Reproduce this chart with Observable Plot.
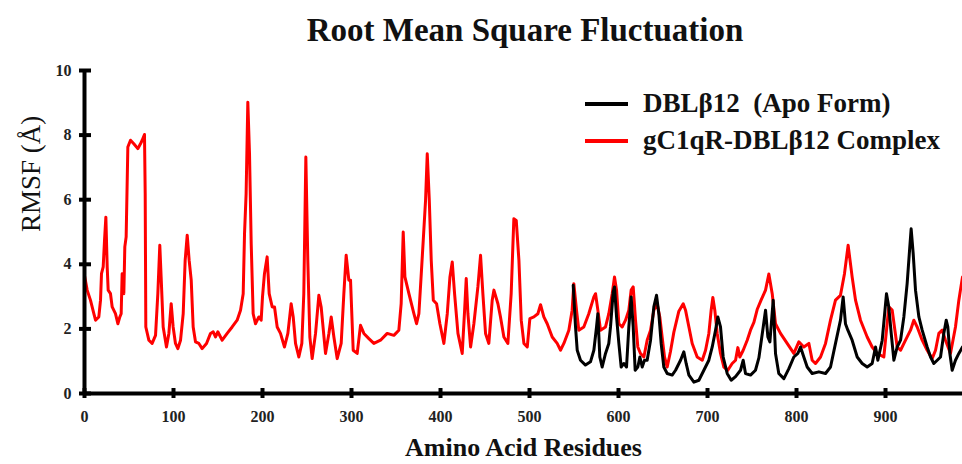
<!DOCTYPE html>
<html><head><meta charset="utf-8">
<script src="https://cdn.jsdelivr.net/npm/d3@7"></script>
<script src="https://cdn.jsdelivr.net/npm/@observablehq/plot@0.6"></script>
<style>
body{margin:0;background:#fff;}
#wrap{position:relative;width:962px;height:464px;overflow:hidden;font-family:"Liberation Serif","Times New Roman",serif;}
#title{box-sizing:border-box;height:55px;padding-top:5px;line-height:51px;font-size:33px;font-weight:bold;text-align:center;padding-left:88px;color:#111;white-space:nowrap;}
#legend{position:absolute;left:585px;top:85px;font-size:27px;font-weight:bold;color:#111;}
.row{position:relative;height:37px;white-space:pre;}
.sw{position:absolute;left:0;top:17px;width:43px;height:0;border-top:4px solid;}
.lab{position:absolute;left:58px;top:0;line-height:37px;}
</style></head><body>
<div id="wrap">
<div id="title">Root Mean Square Fluctuation</div>
<div id="chart"></div>
<div id="legend"></div>
</div>
<script>
// Series labels and colours
const seriesNames = ["DBLβ12  (Apo Form)", "gC1qR-DBLβ12 Complex"];
const seriesColors = ["#000000", "#ff0000"];

// Ticks
const xTicks = [0, 100, 200, 300, 400, 500, 600, 700, 800, 900];
const yTicks = [0, 2, 4, 6, 8, 10];

// gC1qR-DBLβ12 Complex (red)
const complexResidue = [0,3,6.7,10.5,12.4,16.1,18,19.1,21,22.5,24,25.5,26.6,29.2,31.1,34.8,37.5,39.7,41.2,42.3,44.2,45.3,46.8,48.7,51.7,55.4,59.9,62.9,64.8,67.4,68.2,68.9,72.3,76,79.8,82.4,84.6,86.1,88.4,92.1,94.8,97.4,99.6,102.2,104.9,107.9,110.9,113.1,115.4,117.6,119.9,122.1,124.7,128.5,132.2,137.1,141.6,144.6,147.2,149.8,154.7,160.3,165.9,171.5,175.3,178.3,179.8,181.6,183.5,185.4,187.3,189.5,192.1,195.9,198.5,200,202.2,205.2,207.5,210.9,213.5,216.5,220.2,224.7,228.5,232.2,234.5,237.1,240.8,244.2,246.4,248.7,250.9,253.2,255.8,259.6,263.3,265.9,270.8,274.6,277.2,280.2,283.9,288.4,291.4,294,297,298.9,301.9,306.4,310.1,313.9,319.5,325.1,332.6,340.1,347.6,353.2,355.8,358.1,360,364.5,370.1,373.1,375.7,378.4,380.6,383.2,385.1,387.4,389.6,391.9,395.6,399.3,403.8,407.6,410.6,413.2,415.8,419.6,424.4,427.1,428.9,430.8,433.8,437.5,442,445,447.6,450.6,454.3,458.1,460,464.5,467.4,471.2,475.7,479.4,482.4,485.1,488.1,490.7,493.7,497.5,500.4,504.9,509.4,512.4,516.1,519.9,525.5,531.1,534.8,538.6,544.2,547.9,549.8,552.8,555.4,561,566.6,572.3,574.2,576.8,579.8,585.4,589.1,592.9,595.5,597.8,600.4,604.1,607.9,611.6,614.2,616.5,619.1,621.7,624.7,628.5,632.2,636,639.7,643.4,646.4,649,651.7,654.7,658.4,662.2,667.8,672.7,675.3,679.1,682.8,688.4,694.1,697.8,701.5,704.1,706,708.2,710.9,714.6,718.4,722.8,727.7,731.5,734.1,736.3,740.1,744.6,748.3,752.1,755.8,760.3,765.2,768.9,772.7,776.4,782,789.5,797,802.6,808.2,813.9,817.6,821.3,827,832.6,838.2,843.8,849.4,853.9,858,862.5,866.3,871.9,879.4,885,890.6,898.1,903.7,907.5,913.1,916.9,922.5,928.1,931.8,935.6,941.2,946.8,952.4,956.2,959.9,963.7,967.4,973,978.6,982.4,986.5];
const complexRmsf = [3.65,3.2,2.89,2.47,2.27,2.37,2.89,3.71,3.92,4.74,5.46,3.92,3.2,3.09,2.68,2.47,2.16,2.37,2.47,3.71,3.09,4.54,4.85,7.63,7.84,7.73,7.58,7.73,7.84,8.02,6.19,2.06,1.65,1.55,1.8,3.09,4.59,3.61,2.06,1.44,1.86,2.78,2.06,1.55,1.39,1.65,2.47,4.12,4.9,4.12,3.51,2.06,1.6,1.55,1.39,1.55,1.86,1.91,1.75,1.91,1.65,1.86,2.06,2.27,2.58,3.09,4.95,6.19,9.02,7.42,4.64,2.47,2.16,2.37,2.27,2.99,3.71,4.23,3.09,2.68,2.68,2.06,1.86,1.44,1.86,2.78,2.37,1.55,1.13,1.55,3.09,7.32,4.12,1.75,1.08,1.86,3.04,2.68,1.24,1.86,2.37,1.75,1.08,1.55,3.09,4.28,3.51,3.51,1.34,1.24,2.11,1.86,1.7,1.55,1.65,1.86,1.8,1.96,2.78,5.0,3.61,3.09,2.47,2.16,2.47,3.71,4.74,5.98,7.42,5.98,4.12,2.89,2.78,2.16,1.55,2.47,3.61,4.07,3.09,1.86,1.24,2.58,3.56,2.47,1.44,2.16,3.3,4.28,3.09,1.86,1.55,2.89,3.2,2.78,2.37,1.75,1.55,3.09,5.41,5.36,4.12,2.27,1.55,1.44,2.32,2.37,2.47,2.75,2.37,2.16,1.75,1.55,1.34,1.55,1.96,2.58,3.4,2.58,1.96,2.06,2.47,2.99,3.09,2.58,1.96,2.06,2.47,3.09,3.61,3.2,2.16,2.06,2.27,2.58,3.2,3.3,2.27,1.44,1.24,1.13,1.65,1.96,2.58,2.78,2.37,1.75,1.13,0.82,1.3,1.9,2.55,2.78,2.58,2.06,1.55,1.13,1.03,1.34,1.86,2.58,2.97,2.58,1.86,1.24,0.82,0.72,0.93,1.03,1.42,1.13,1.34,1.65,1.96,2.2,2.6,2.9,3.2,3.7,3.09,2.16,1.86,1.55,1.24,1.6,1.44,1.55,1.03,0.93,1.13,1.55,2.27,2.89,3.04,3.71,4.59,3.61,2.89,2.27,1.75,1.44,1.24,1.13,2.68,2.58,1.44,1.34,1.65,1.96,2.27,2.06,1.65,1.34,1.08,1.34,1.86,1.96,1.65,1.24,2.06,2.89,3.61];

// DBLβ12 Apo Form (black)
const apoResidue = [549.1,551.7,553.6,557.3,562.9,568.5,572.3,575.3,576.8,579,581.6,585.4,589.1,591,594,595.5,597.8,600.4,603,606,609,611.6,614.2,616.5,618.7,621.7,624,626.6,629.2,632.2,636,639.7,642.7,645.3,647.9,650.9,654.7,660.3,664.1,669.7,673.4,676,679.1,684.7,690.3,695.9,701.5,705.3,709,711.6,714.6,717.6,722.1,726.6,731.5,737.1,740.1,742.7,748.3,753.9,757.7,762.6,765.2,767.8,770.1,773.8,776.4,780.1,785.8,791.4,797,801.5,804.5,808.2,812,817.6,825.1,832.6,838.2,843.8,849.4,852.4,855,857.7,862.5,868.2,873.8,879.4,885,888.8,891.4,896.3,901.1,903.7,906.4,909.4,913.1,916.9,920.6,924.3,927,928.8,931.1,933.7,937.5,941.2,946.8,950.6,954.3,958.1,961.8,965.5,968.2,970,972.3,974.9,978.6,982.4,986.5];
const apoRmsf = [3.35,2.06,1.34,1.03,0.88,0.98,1.34,2.06,2.47,1.13,0.82,1.24,1.55,2.06,3.14,3.3,2.37,1.55,0.82,0.93,0.82,2.06,2.99,2.06,0.72,0.82,1.13,0.82,1.03,1.03,1.65,2.68,3.04,2.47,1.55,0.82,0.62,0.57,0.72,1.03,1.29,0.93,0.57,0.35,0.41,0.72,1.03,1.44,1.96,2.37,2.06,1.13,0.62,0.41,0.52,0.72,1.03,0.62,0.57,0.72,1.1,2.06,2.58,1.75,1.6,2.89,1.24,0.62,0.46,0.77,1.13,1.24,1.44,1.13,0.82,0.62,0.67,0.62,0.82,1.55,2.27,2.99,2.16,1.96,1.65,1.13,0.93,0.82,0.93,1.44,1.03,1.65,3.09,2.68,1.86,1.03,1.44,1.65,2.37,3.4,4.43,5.1,4.33,3.2,2.37,1.96,1.44,1.13,0.93,1.03,1.13,1.86,2.27,2.06,1.24,0.72,1.03,1.24,1.44];

const complex = complexResidue.map((r, i) => ({residue: r, rmsf: complexRmsf[i]}));
const apo = apoResidue.map((r, i) => ({residue: r, rmsf: apoRmsf[i]}));

const tickFont = {fontSize: 16, fontWeight: "bold", fill: "#222"};

const chart = Plot.plot({
  width: 962,
  height: 409,
  marginLeft: 84,
  marginRight: 0,
  marginTop: 15,
  marginBottom: 71,
  style: {fontFamily: "'Liberation Serif','Times New Roman',serif", background: "#fff", overflow: "visible"},
  x: {domain: [0, 986.5]},
  y: {domain: [0, 10]},
  marks: [
    Plot.axisX({ticks: xTicks, tickSize: 5, tickPadding: 12, strokeWidth: 4, label: null, tickFormat: d => String(d), ...tickFont}),
    Plot.axisX({ticks: xTicks, tickSize: -5, strokeWidth: 4, label: null, text: null}),
    Plot.axisY({ticks: yTicks, tickSize: 5, tickPadding: 8, strokeWidth: 4, label: null, tickFormat: d => String(d), ...tickFont}),
    Plot.axisY({ticks: yTicks, tickSize: -7, strokeWidth: 4, label: null, text: null}),
    Plot.line(complex, {x: "residue", y: "rmsf", stroke: seriesColors[1], strokeWidth: 3, strokeLinejoin: "round"}),
    Plot.line(apo, {x: "residue", y: "rmsf", stroke: seriesColors[0], strokeWidth: 3, strokeLinejoin: "round"}),
    Plot.ruleX([0], {stroke: "#000", strokeWidth: 4}),
    Plot.ruleY([0], {stroke: "#000", strokeWidth: 4}),
    Plot.text(["Amino Acid Residues"], {text: d => d, frameAnchor: "bottom", dy: 54, lineAnchor: "middle", fontSize: 26, fontWeight: "bold", fill: "#111"}),
    Plot.text(["RMSF (Å)"], {text: d => d, frameAnchor: "left", dx: -53, rotate: -90, lineAnchor: "middle", fontSize: 27, fill: "#111"})
  ]
});
document.getElementById("chart").appendChild(chart);

const legend = document.getElementById("legend");
seriesNames.forEach((name, i) => {
  const row = document.createElement("div");
  row.className = "row";
  const sw = document.createElement("div");
  sw.className = "sw";
  sw.style.borderTopColor = seriesColors[i];
  const lab = document.createElement("div");
  lab.className = "lab";
  lab.textContent = name;
  row.appendChild(sw);
  row.appendChild(lab);
  legend.appendChild(row);
});
</script>
</body></html>
